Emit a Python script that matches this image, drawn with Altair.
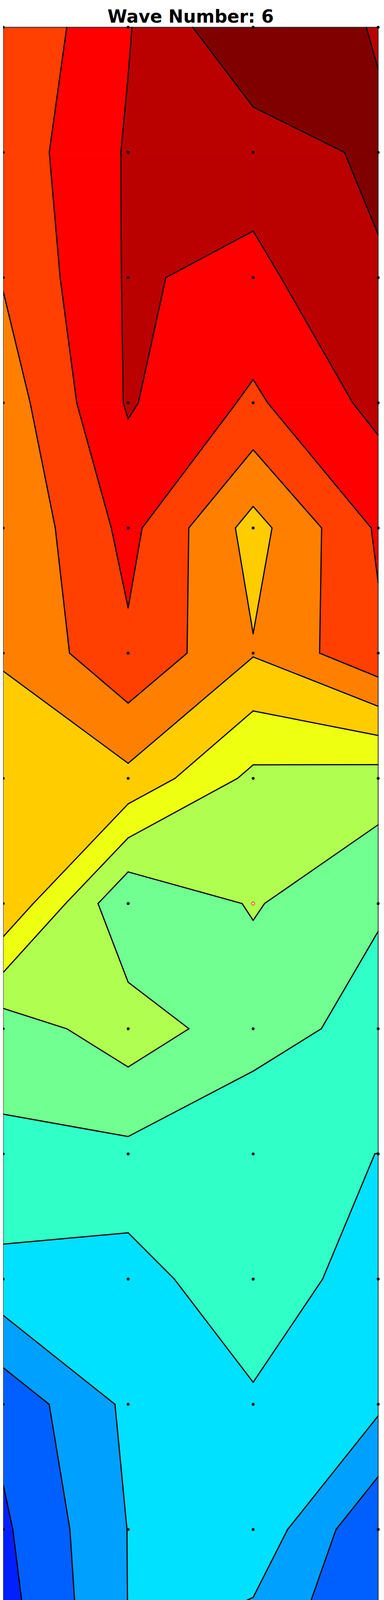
import altair as alt

title_text = "Wave Number: 6"

# grid positions (columns left to right, rows top to bottom)
col_x = [0, 1, 2, 3]
row_y = list(range(16))

# field values, one list per row, top to bottom
z_rows = [
    [12.03, 13.936, 16.0, 14.895],
    [12.356, 14.101, 14.43, 15.21],
    [12.07, 14.11, 13.745, 14.89],
    [11.42, 14.104, 12.83, 14.30],
    [11.07, 13.30, 10.62, 13.14],
    [11.06, 12.83, 11.07, 12.82],
    [10.64, 10.75, 8.75, 8.53],
    [10.93, 7.07, 8.09, 7.10],
    [7.43, 8.55, 7.42, 6.65],
    [6.80, 6.75, 6.18, 5.995],
    [5.69, 5.56, 6.75, 5.40],
    [3.30, 5.20, 5.84, 5.19],
    [2.83, 5.02, 5.71, 3.13],
    [2.49, 5.005, 4.40, 3.11],
    [1.86, 3.47, 2.995, 2.72],
    [1.50, 1.69, 2.975, 0.78],
]

levels = list(range(1, 16))
band_colors = [
    "#000080", "#0000cd", "#0020ff", "#0060ff", "#00a0ff", "#00e0ff",
    "#30ffc8", "#70ff90", "#b0ff50", "#eeff12", "#ffcc00", "#ff8000",
    "#ff4000", "#ff0000", "#bb0000", "#800000",
]
marked_point = (2, 7)

EPS = 1e-9


def cross(p, q, a, b, lv):
    t = (lv - a) / (b - a)
    return [p[0] + t * (q[0] - p[0]), p[1] + t * (q[1] - p[1])]


def edge_crossings(pts, vals, lv):
    above = [v >= lv for v in vals]
    xs = {}
    for i in range(4):
        j = (i + 1) % 4
        if above[i] != above[j]:
            xs[i] = cross(pts[i], pts[j], vals[i], vals[j], lv)
    return above, xs


def level_pieces(pts, vals, lv, mid, high):
    # region v >= lv (high) or v < lv (not high) as lists of half-plane cuts
    above, xs = edge_crossings(pts, vals, lv)
    inside = [a == high for a in above]
    if all(inside):
        return [[]]
    if not any(inside):
        return []
    if len(xs) == 2:
        p1, p2 = list(xs.values())
        return [[(p1, p2, pts[inside.index(True)])]]
    connected = (mid >= lv) == high
    if connected:
        return [[(xs[(i - 1) % 4], xs[i], pts[(i + 2) % 4]) for i in range(4) if not inside[i]]]
    return [[(xs[(i - 1) % 4], xs[i], pts[i])] for i in range(4) if inside[i]]


def clip_half(poly, p, q, ref):
    def side(P):
        return (q[0] - p[0]) * (P[1] - p[1]) - (q[1] - p[1]) * (P[0] - p[0])
    sign = 1 if side(ref) > 0 else -1
    out = []
    for i in range(len(poly)):
        A, B = poly[i], poly[(i + 1) % len(poly)]
        sa, sb = side(A) * sign, side(B) * sign
        in_a, in_b = sa >= -EPS, sb >= -EPS
        if in_a:
            out.append(A)
        if in_a != in_b:
            t = sa / (sa - sb)
            out.append([A[0] + t * (B[0] - A[0]), A[1] + t * (B[1] - A[1])])
    return out


def poly_area(poly):
    s = 0
    for i in range(len(poly)):
        A, B = poly[i], poly[(i + 1) % len(poly)]
        s += A[0] * B[1] - B[0] * A[1]
    return abs(s) / 2


def area_rows(poly):
    rows = []
    for x in sorted(set(round(p[0], 7) for p in poly)):
        ys = []
        for i in range(len(poly)):
            A, B = poly[i], poly[(i + 1) % len(poly)]
            if min(A[0], B[0]) - 1e-6 <= x <= max(A[0], B[0]) + 1e-6:
                if abs(B[0] - A[0]) < 1e-7:
                    ys += [A[1], B[1]]
                else:
                    t = (x - A[0]) / (B[0] - A[0])
                    ys.append(A[1] + t * (B[1] - A[1]))
        rows.append((x, min(ys), max(ys)))
    return rows


band_rows = []
line_rows = []
pid = 0
for r in range(len(row_y) - 1):
    for c in range(len(col_x) - 1):
        pts = [[col_x[c], row_y[r]], [col_x[c + 1], row_y[r]],
               [col_x[c + 1], row_y[r + 1]], [col_x[c], row_y[r + 1]]]
        vals = [z_rows[r][c], z_rows[r][c + 1], z_rows[r + 1][c + 1], z_rows[r + 1][c]]
        mid = sum(vals) / 4
        for k, color in enumerate(band_colors):
            lo_cuts = level_pieces(pts, vals, levels[k - 1], mid, True) if k > 0 else [[]]
            hi_cuts = level_pieces(pts, vals, levels[k], mid, False) if k < len(levels) else [[]]
            for a in lo_cuts:
                for b in hi_cuts:
                    poly = [list(p) for p in pts]
                    for p, q, ref in a + b:
                        poly = clip_half(poly, p, q, ref)
                        if len(poly) < 3:
                            break
                    if len(poly) < 3 or poly_area(poly) < 1e-7:
                        continue
                    for x, y0, y1 in area_rows(poly):
                        band_rows.append({"pid": pid, "fill": color, "x": x, "y": y0, "y2": y1})
                    pid += 1
        for lv in levels:
            above, xs = edge_crossings(pts, vals, lv)
            segs = []
            if len(xs) == 2:
                segs = [list(xs.values())]
            elif len(xs) == 4:
                for i in range(4):
                    lone = (not above[i]) if mid >= lv else above[i]
                    if lone:
                        segs.append([xs[(i - 1) % 4], xs[i]])
            for p, q in segs:
                line_rows.append({"x": p[0], "y": p[1], "x2": q[0], "y2": q[1]})

dots = [{"x": x, "y": y} for y in row_y for x in col_x if (x, y) != marked_point]
marked = [{"x": marked_point[0], "y": marked_point[1]}]
frame = [{"x": col_x[0], "x2": col_x[-1], "y": row_y[0], "y2": row_y[-1]}]

xs_ = alt.Scale(domain=[col_x[0], col_x[-1]], nice=False, zero=False)
ys_ = alt.Scale(domain=[row_y[0], row_y[-1]], nice=False, zero=False, reverse=True)

bands = alt.Chart(alt.Data(values=band_rows)).mark_area(strokeWidth=1, opacity=1).encode(
    x=alt.X("x:Q", scale=xs_, axis=None),
    y=alt.Y("y:Q", scale=ys_, axis=None, stack=False),
    y2="y2:Q",
    detail="pid:N",
    color=alt.Color("fill:N", scale=None),
    stroke=alt.Stroke("fill:N", scale=None),
)

lines = alt.Chart(alt.Data(values=line_rows)).mark_rule(
    color="black", strokeWidth=3, strokeCap="round"
).encode(
    x=alt.X("x:Q", scale=xs_, axis=None),
    y=alt.Y("y:Q", scale=ys_, axis=None),
    x2="x2:Q",
    y2="y2:Q",
)

box = alt.Chart(alt.Data(values=frame)).mark_rect(
    filled=False, stroke="#2a2a2a", strokeWidth=2
).encode(
    x=alt.X("x:Q", scale=xs_, axis=None),
    y=alt.Y("y:Q", scale=ys_, axis=None),
    x2="x2:Q",
    y2="y2:Q",
)

points = alt.Chart(alt.Data(values=dots)).mark_circle(size=55, color="black", opacity=1).encode(
    x=alt.X("x:Q", scale=xs_, axis=None),
    y=alt.Y("y:Q", scale=ys_, axis=None),
)

marker = alt.Chart(alt.Data(values=marked)).mark_circle(
    size=55, fill="white", stroke="red", strokeWidth=1.6, opacity=1
).encode(
    x=alt.X("x:Q", scale=xs_, axis=None),
    y=alt.Y("y:Q", scale=ys_, axis=None),
)

chart = alt.layer(bands, lines, box, points, marker).properties(
    width=969,
    height=4847,
    title=alt.Title(title_text, fontSize=46, font="DejaVu Sans", fontWeight="bold",
                    color="black", anchor="middle", offset=-2),
    padding={"left": 0, "top": 42, "right": 7, "bottom": 0},
    autosize=alt.AutoSizeParams(type="none"),
).configure_view(strokeWidth=0).configure(background="white")

chart.save("out.html", embed_options={"renderer": "svg", "actions": False})
